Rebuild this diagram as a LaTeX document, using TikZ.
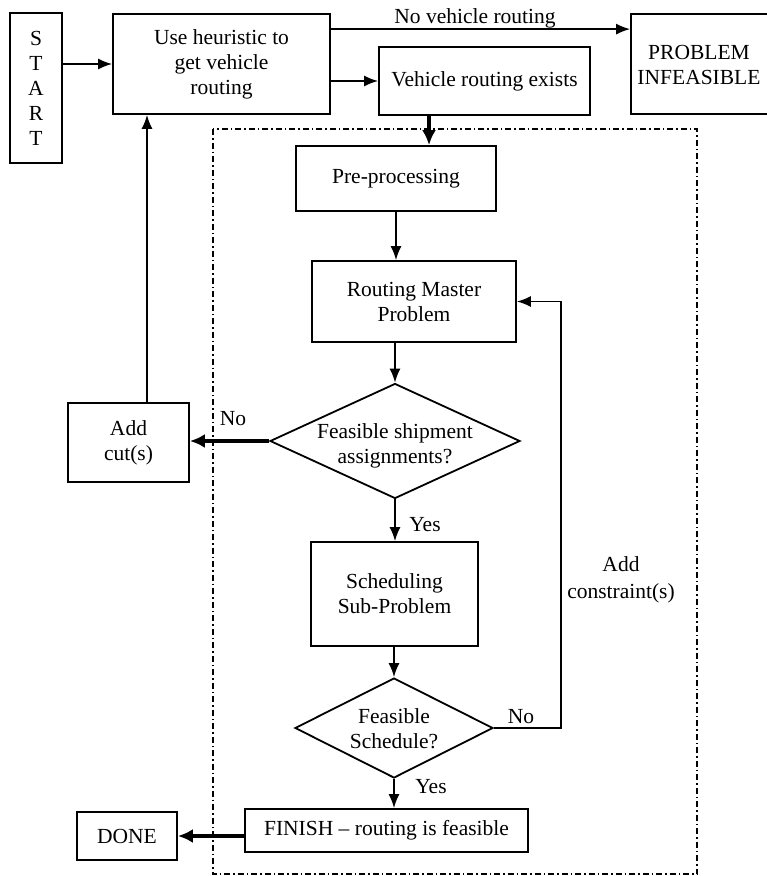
\documentclass[tikz,border=0pt]{standalone}
\usepackage{fontspec}
\setmainfont{Liberation Serif}
\usetikzlibrary{arrows.meta,shapes.geometric}
\begin{document}
\begin{tikzpicture}[x=1pt,y=-1pt,
  every node/.style={font=\fontsize{21.5}{25}\selectfont},
  box/.style={draw, line width=1.8pt, inner sep=0pt, align=center},
  dia/.style={draw, diamond, line width=1.8pt, inner sep=0pt},
  lbl/.style={inner sep=0pt, align=center},
  arr/.style={line width=1.6pt, -{Latex[length=14pt 0 0,width=11pt 0 0]}},
  tarr/.style={line width=4pt, -{Latex[length=15pt 0 0,width=14pt 0 0]}},
  frame/.style={line width=1.2pt, dash pattern=on 6pt off 3pt on 1.5pt off 3pt}]
\useasboundingbox (0,0) rectangle (767,876);

% dash-dot frame
\draw[frame] (213,129) rectangle (697,874);

% nodes
\node[box, minimum width=52, minimum height=150] (start) at (36,88) {S\\T\\A\\R\\T};
\node[box, minimum width=217, minimum height=100] (heur) at (221.5,64) {Use heuristic to\\get vehicle\\routing};
\node[box, minimum width=211, minimum height=68] (vre) at (484.5,81) {Vehicle routing exists};
\node[box, minimum width=170, minimum height=100] (prob) at (716,64) {};
\node[lbl] (probtxt) at (699,65) {PROBLEM\\INFEASIBLE};
\node[box, minimum width=200, minimum height=65] (pre) at (396,178.5) {Pre-processing};
\node[box, minimum width=204, minimum height=81] (rmp) at (414,301.5) {Routing Master\\Problem};
\node[dia, minimum width=250, minimum height=115] (d1) at (395,441) {};
\node[lbl] (d1txt) at (395,446) {Feasible shipment\\assignments?};
\node[box, minimum width=121, minimum height=79] (cut) at (128.5,442.5) {Add\\cut(s)};
\node[box, minimum width=167, minimum height=104] (sched) at (394.5,594) {Scheduling\\Sub-Problem};
\node[dia, minimum width=198, minimum height=100] (d2) at (394,728) {};
\node[lbl] (d2txt) at (394,729) {Feasible\\Schedule?};
\node[box, minimum width=283, minimum height=43] (fin) at (386.5,830.5) {FINISH -- routing is feasible};
\node[box, minimum width=100, minimum height=48] (done) at (127,836) {DONE};

% labels
\node[lbl, anchor=base] (lnv) at (475,23) {No vehicle routing};
\node[lbl, anchor=base] (lno1) at (233,425) {No};
\node[lbl, anchor=base] (lyes1) at (425,531) {Yes};
\node[lbl, anchor=base] (lno2) at (521,723) {No};
\node[lbl, anchor=base] (lyes2) at (431,793) {Yes};
\node[lbl] (lac) at (621,580) {Add\\[2pt]constraint(s)};

% helper coordinates
\coordinate (vp) at (429,0);
\coordinate (hc) at (147,0);
\coordinate (rx) at (561,0);

% connectors
\draw[arr] (start.east |- heur.west) -- (heur.west);
\draw[arr] ([yshift=-16pt]heur.north east) -- ([yshift=-16pt]heur.north east -| prob.west);
\draw[arr] (heur.east |- vre.west) -- (vre.west);
\draw[tarr] (vre.south -| vp) -- (pre.north -| vp);
\draw[arr] (pre.south) -- (rmp.north -| pre.south);
\draw[arr] (rmp.south -| d1.north) -- (d1.north);
\draw[tarr] (d1.west) -- (cut.east |- d1.west);
\draw[arr] (cut.north -| hc) -- (heur.south -| hc);
\draw[arr] (d1.south) -- (sched.north -| d1.south);
\draw[arr] (sched.south -| d2.north) -- (d2.north);
\draw[arr] (d2.east) -- (d2.east -| rx) -- (rmp.east -| rx) -- (rmp.east);
\draw[arr] (d2.south) -- (fin.north -| d2.south);
\draw[tarr] (fin.west |- done.east) -- (done.east);
\end{tikzpicture}
\end{document}
